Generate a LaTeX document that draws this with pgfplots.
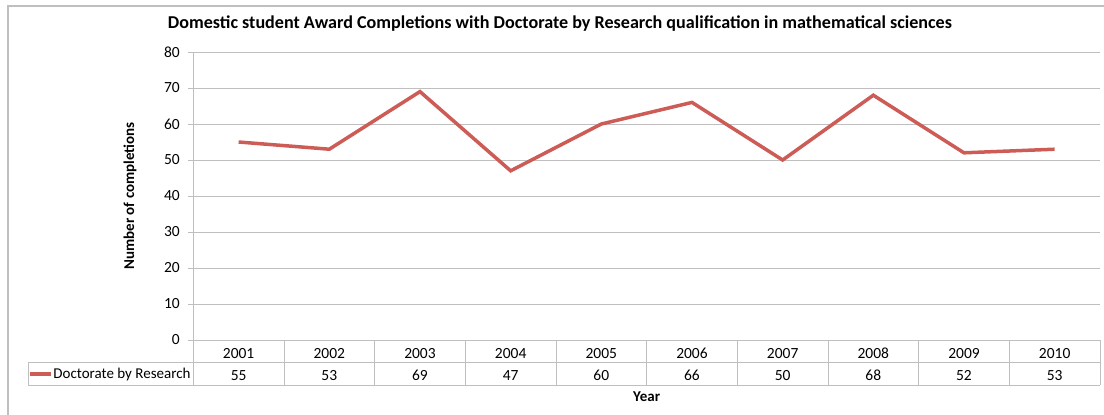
\documentclass[border=0pt]{standalone}
\usepackage{fontspec}
\setmainfont{Carlito}
\usepackage{pgfplots}
\usepackage{pgfplotstable}
\pgfplotsset{compat=1.18}
\definecolor{series}{RGB}{205,92,86}
\definecolor{gridgray}{RGB}{191,191,191}

\pgfplotstableread{
idx year value
0 2001 55
1 2002 53
2 2003 69
3 2004 47
4 2005 60
5 2006 66
6 2007 50
7 2008 68
8 2009 52
9 2010 53
}\datatable

\begin{document}
\begin{tikzpicture}
\path[use as bounding box] (0pt,0pt) rectangle (1104pt,-415pt);
\draw[gridgray, line width=1.2pt] (8pt,-415pt) -- (8pt,-6pt) -- (1104pt,-6pt);
\begin{scope}[shift={(193.3pt,-340pt)}]
\begin{axis}[
 at={(45.335pt,0pt)}, anchor=origin,
 scale only axis, width=906.7pt, height=288pt,
 xmin=-0.5, xmax=9.5, ymin=0, ymax=80,
 clip=false,
 axis line style={draw=none},
 /pgf/number format/assume math mode=true,
 ytick={0,10,...,80},
 ytick pos=left, tick align=outside, major tick length=5pt,
 ytick style={gridgray, line width=0.8pt},
 ymajorgrids, grid style={gridgray, line width=0.8pt},
 xtick=data, xticklabels from table={\datatable}{year},
 xtick style={draw=none},
 tick label style={font=\fontsize{15.5}{17}\selectfont},
 yticklabel style={xshift=-5pt},
 xticklabel style={anchor=base, yshift=-13.3pt},
 title={Domestic student Award Completions with Doctorate by Research qualification in mathematical sciences},
 title style={at={(axis description cs:0.4044,1.0615)}, anchor=base, yshift=0pt, font=\bfseries\fontsize{18.1}{20}\selectfont},
 ylabel={Number of completions},
 ylabel style={at={(axis description cs:-0.0698,0.5)}, anchor=center, font=\bfseries\fontsize{15}{17}\selectfont},
 xlabel={Year},
 xlabel style={at={(axis description cs:0.5,-0.198)}, anchor=center, font=\bfseries\fontsize{15}{17}\selectfont},
 legend style={at={(axis description cs:-0.182,-0.118)}, anchor=west, draw=none, fill=none, inner sep=0pt,
   nodes={inner sep=0.5pt}, font=\fontsize{15}{17}\selectfont},
 legend image code/.code={\draw[series, line width=3.5pt] (0pt,0pt) -- (21pt,0pt);},
]
\addplot[series, line width=3.5pt] table[x=idx, y=value]{\datatable};
\addlegendentry{Doctorate by Research}
\addplot[draw=none, mark=none, forget plot, nodes near coords, point meta=explicit,
  every node near coord/.append style={anchor=base, font=\fontsize{15.5}{17}\selectfont}]
  table[x=idx, y expr=-11.19, meta=value]{\datatable};
\draw[gridgray, line width=0.9pt] (axis cs:-0.5,0) -- (axis cs:9.5,0);
\draw[gridgray, line width=0.9pt] (axis cs:-2.32,-6.306) -- (axis cs:9.5,-6.306);
\draw[gridgray, line width=0.9pt] (axis cs:-2.32,-12.583) -- (axis cs:9.5,-12.583);
\draw[gridgray, line width=0.9pt] (axis cs:-2.32,-6.306) -- (axis cs:-2.32,-12.583);
\draw[gridgray, line width=0.9pt] (axis cs:-0.5,80) -- (axis cs:-0.5,-12.583);
\pgfplotsinvokeforeach{0.5,1.5,...,9.5}{\draw[gridgray, line width=0.9pt] (axis cs:#1,0) -- (axis cs:#1,-12.583);}
\end{axis}
\end{scope}
\end{tikzpicture}
\end{document}
